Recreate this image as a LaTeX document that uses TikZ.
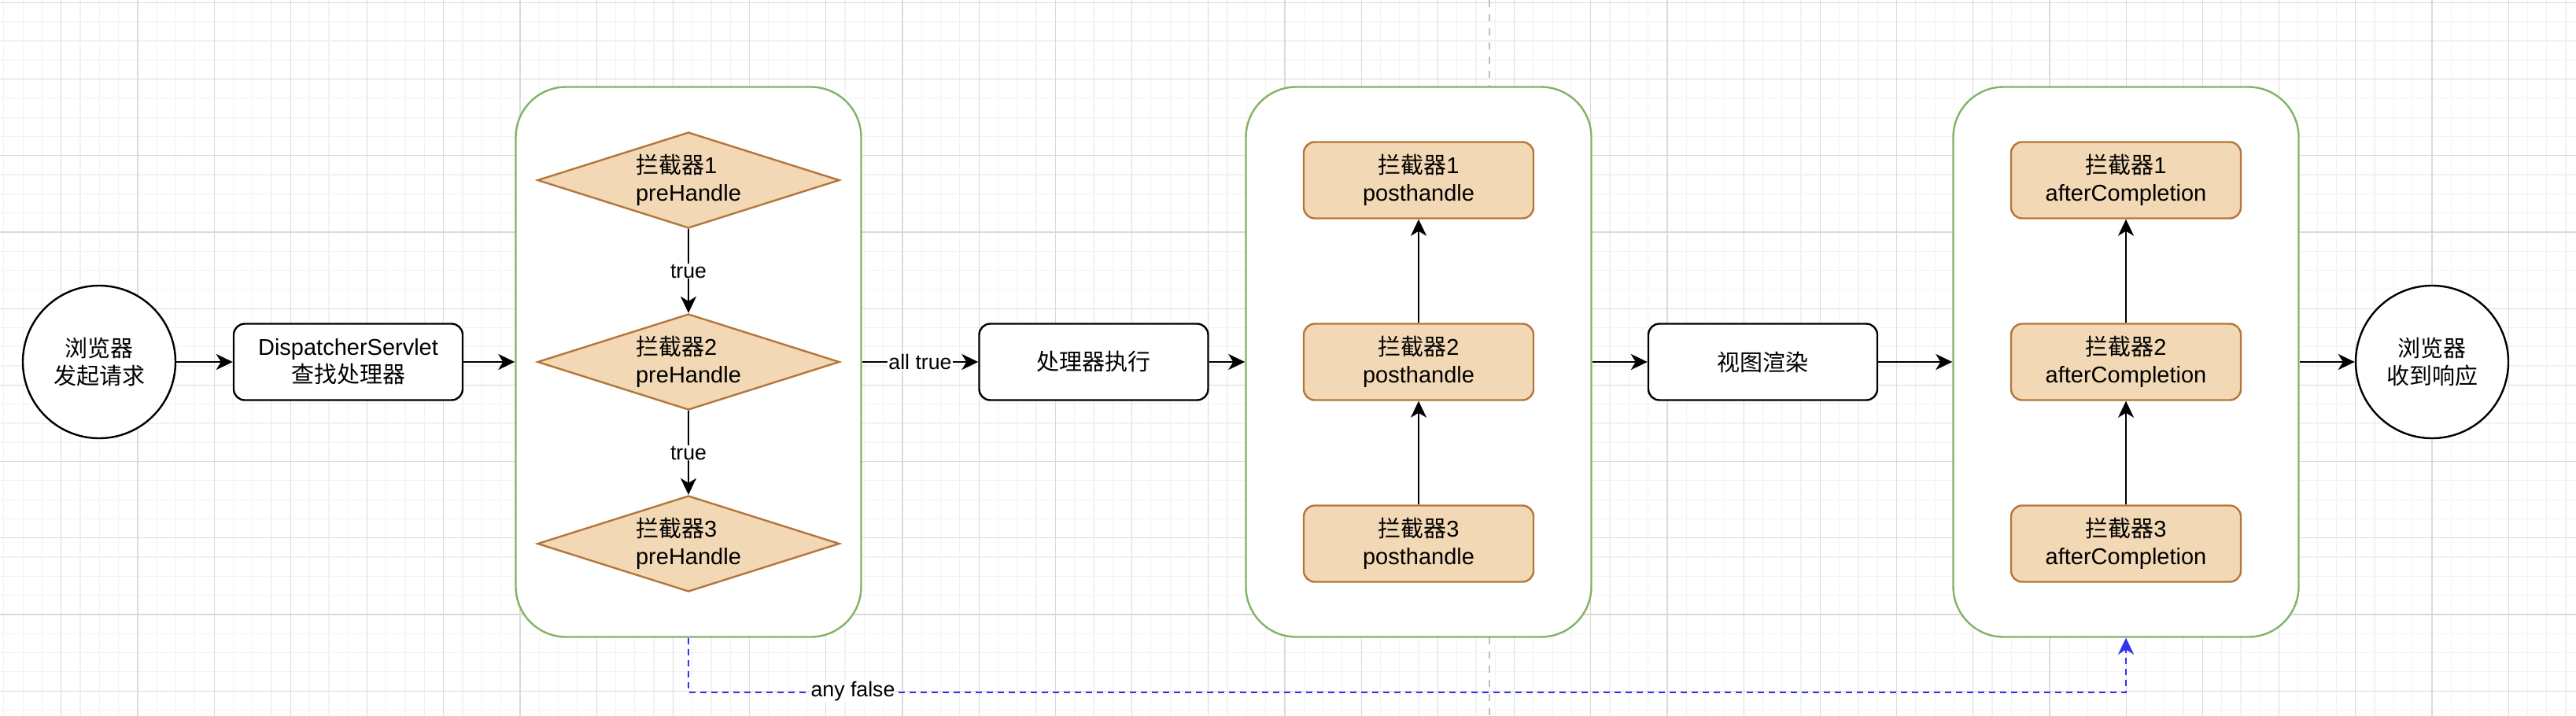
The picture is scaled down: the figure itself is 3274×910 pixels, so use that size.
\documentclass[tikz,border=0pt]{standalone}
\usepackage{fontspec}
\setmainfont{Liberation Sans}
\newfontfamily\cjk{Noto Sans CJK SC}
\usetikzlibrary{shapes.geometric,arrows.meta}
\definecolor{gridminor}{RGB}{242,242,242}
\definecolor{gridmajor}{RGB}{218,218,218}
\definecolor{boxgreen}{RGB}{130,179,102}
\definecolor{orfill}{RGB}{242,216,180}
\definecolor{orline}{RGB}{180,118,58}
\definecolor{flowblue}{RGB}{51,51,240}
\definecolor{pagegray}{RGB}{190,190,190}
\newcommand{\zh}[1]{{\cjk #1}}
\begin{document}
\begin{tikzpicture}[x=1pt,y=-1pt,
  txt/.style={font=\fontsize{29}{35}\selectfont},
  lbl/.style={font=\fontsize{26.7}{30}\selectfont, fill=white, inner sep=1pt},
  startend/.style={circle, draw=black, line width=2.4pt, fill=white, minimum size=194pt, inner sep=0pt, align=center, txt},
  procbox/.style={rectangle, rounded corners=14pt, draw=black, line width=2.4pt, fill=white, minimum width=291pt, minimum height=97pt, align=center, txt, inner sep=0pt},
  group/.style={rectangle, rounded corners=64pt, draw=boxgreen, line width=2.4pt, fill=white, minimum width=439pt, minimum height=699pt, inner sep=0pt},
  ordiamond/.style={diamond, aspect=3.15, draw=orline, fill=orfill, line width=2.4pt, minimum width=384pt, minimum height=122pt, inner sep=0pt, align=left, txt},
  orbox/.style={rectangle, rounded corners=14pt, draw=orline, fill=orfill, line width=2.4pt, minimum width=292pt, minimum height=97pt, inner sep=0pt, align=center, txt},
  flow/.style={draw=black, line width=2.4pt, -{Stealth[length=21pt,width=20pt,inset=6pt]}},
  falseflow/.style={draw=flowblue, line width=2.4pt, dash pattern=on 8pt off 6pt, -{Stealth[length=21pt,width=20pt,inset=6pt]}},
  minorline/.style={draw=gridminor, line width=1.2pt},
  majorline/.style={draw=gridmajor, line width=1.2pt},
  pageline/.style={draw=pagegray, line width=2pt, dash pattern=on 9pt off 9pt}
]
\useasboundingbox (0,0) rectangle (3274,910);
\fill[white] (0,0) rectangle (3274,910);
% grid
\foreach \k in {-3,...,131} \draw[minorline] ({77.7+24.3*\k},0) -- ({77.7+24.3*\k},910);
\foreach \k in {0,...,37} \draw[minorline] (0,{3.3+24.3*\k}) -- (3274,{3.3+24.3*\k});
\foreach \k in {0,...,32} \draw[majorline] ({77.7+97.2*\k},0) -- ({77.7+97.2*\k},910);
\foreach \k in {0,...,9} \draw[majorline] (0,{3.3+97.2*\k}) -- (3274,{3.3+97.2*\k});
% page break line
\coordinate (pgtop) at (1893,0);
\coordinate (pgbot) at (1893,910);
\draw[pageline] (pgtop) -- (pgbot);

% containers
\node[group] (g1) at (875,460) {};
\node[group] (g2) at (1803,460) {};
\node[group] (g3) at (2702,460) {};

% main nodes
\node[startend] (start) at (126,460) {\zh{浏览器}\\\zh{发起请求}};
\node[procbox] (disp) at (442.5,460) {DispatcherServlet\\\zh{查找处理器}};
\node[procbox] (exec) at (1390,460) {\zh{处理器执行}};
\node[procbox] (view) at (2240.5,460) {\zh{视图渲染}};
\node[startend] (finish) at (3091,460) {\zh{浏览器}\\\zh{收到响应}};

% preHandle diamonds
\node[ordiamond] (d1) at (875,229) {\zh{拦截器}1\\preHandle};
\node[ordiamond] (d2) at (875,460) {\zh{拦截器}2\\preHandle};
\node[ordiamond] (d3) at (875,691) {\zh{拦截器}3\\preHandle};

% posthandle boxes
\node[orbox] (p1) at (1803,229) {\zh{拦截器}1\\posthandle};
\node[orbox] (p2) at (1803,460) {\zh{拦截器}2\\posthandle};
\node[orbox] (p3) at (1803,691) {\zh{拦截器}3\\posthandle};

% afterCompletion boxes
\node[orbox] (a1) at (2702,229) {\zh{拦截器}1\\afterCompletion};
\node[orbox] (a2) at (2702,460) {\zh{拦截器}2\\afterCompletion};
\node[orbox] (a3) at (2702,691) {\zh{拦截器}3\\afterCompletion};

% connectors
\draw[flow] (start) -- (disp);
\draw[flow] (disp) -- (g1);
\draw[flow] (g1) -- node[lbl] {all true} (exec);
\draw[flow] (exec) -- (g2);
\draw[flow] (g2) -- (view);
\draw[flow] (view) -- (g3);
\draw[flow] (g3) -- (finish);

\draw[flow] (d1) -- node[lbl] {true} (d2);
\draw[flow] (d2) -- node[lbl] {true} (d3);

\draw[flow] (p3) -- (p2);
\draw[flow] (p2) -- (p1);
\draw[flow] (a3) -- (a2);
\draw[flow] (a2) -- (a1);

\draw[falseflow] (g1.south) -- ++(0,69) -| (g3.south);
\node[lbl] (anyfalse) at (1084,879) {any false};
\end{tikzpicture}
\end{document}
